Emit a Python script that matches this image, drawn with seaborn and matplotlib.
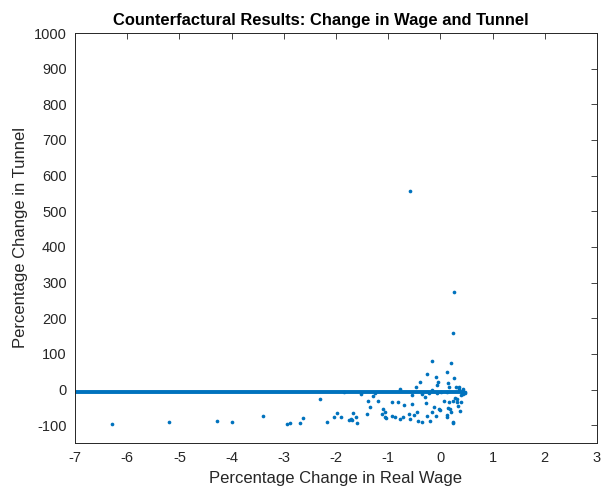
import numpy as np
import pandas as pd
import matplotlib
matplotlib.use("Agg")
import matplotlib.pyplot as plt
import seaborn as sns

# change in real wage (%) and change in tunnel (%)
wage = [-6.30, -5.19, -4.28, -3.99, -3.40, -2.94, -2.88, -2.68, -2.64,
        -2.31, -2.18, -2.03, -1.98, -1.90, -1.85, -1.76, -1.72, -1.69, -1.67,
        -1.62, -1.60, -1.53, -1.41, -1.38, -1.34, -1.30, -1.26, -1.20, -1.12,
        -1.09, -1.07, -1.06, -1.04, -0.93, -0.92, -0.86, -0.81, -0.77, -0.77,
        -0.71, -0.69, -0.61, -0.58, -0.55, -0.54, -0.51, -0.46, -0.44, -0.42,
        -0.40, -0.36, -0.35, -0.29, -0.28, -0.26, -0.26, -0.21, -0.20, -0.17,
        -0.16, -0.16, -0.13, -0.08, -0.08, -0.07, -0.07, -0.04, -0.03, -0.01,
        0.02, 0.07, 0.12, 0.13, 0.13, 0.14, 0.15, 0.16, 0.16, 0.18, 0.20,
        0.20, 0.24, 0.25, 0.27, 0.28, 0.29, 0.31, 0.32, 0.34, 0.36, 0.38,
        0.39, 0.40, 0.41, 0.44, 0.47, 0.48, 0.35, 0.43, 0.12, 0.24,
        -0.58, 0.26, 0.25]
tunnel = [-97, -92, -89, -91, -74, -96, -95, -93, -81,
          -26, -90, -78, -66, -76, -7, -86, -82, -86, -65,
          -78, -94, -14, -69, -32, -50, -19, -9, -32, -68,
          -56, -63, -76, -80, -35, -73, -78, -35, -82, 2,
          -78, -43, -69, -84, -42, -16, -72, 6, -63, -88,
          20, -91, -14, -21, -38, -75, 43, -9, -89, 79,
          -2, -63, -49, 34, -73, 14, -9, 21, -56, -58,
          -7, -32, -78, 48, -8, -51, 19, -36, 7, -56, -63,
          74, -91, -33, 32, -24, 7, -35, -28, -45, 6, -61,
          -35, -16, -7, -14, -11, -6, 2, 2, -72, -94,
          556, 273, 158]

# flat reference line
line_x = [-7.5, 0.48]
line_y = [-8, -8]

df = pd.DataFrame({"wage": wage, "tunnel": tunnel})
blue = "#0072BD"

sns.set_style("white")
plt.rcParams["font.family"] = ["Liberation Sans", "DejaVu Sans"]
plt.rcParams["axes.unicode_minus"] = False

fig = plt.figure(figsize=(6.03, 4.97), dpi=100)
ax = fig.add_axes([0.1244, 0.1087, 0.8656, 0.8249])

ax.plot(line_x, line_y, color=blue, lw=2.8, solid_capstyle="butt", zorder=2)
sns.scatterplot(data=df, x="wage", y="tunnel", color=blue, s=7,
                linewidth=0, edgecolor=None, ax=ax, zorder=3)

ax.set_xlim(-7, 3)
ax.set_ylim(-150, 1000)
ax.set_xticks(range(-7, 4))
ax.set_yticks(range(-100, 1001, 100))
ax.tick_params(direction="in", length=4, width=0.6, top=True, right=True,
               labelsize=10.5, colors="#262626", pad=6)
for s in ax.spines.values():
    s.set_linewidth(0.7)
    s.set_color("#262626")

ax.set_xlabel("Percentage Change in Real Wage", fontsize=12, color="#262626")
ax.set_ylabel("Percentage Change in Tunnel", fontsize=12, color="#262626")
ax.set_title("Counterfactural Results: Change in Wage and Tunnel",
             fontsize=11.9, fontweight="bold", color="black", pad=6, x=0.471)

fig.savefig("out.png", dpi=100)
